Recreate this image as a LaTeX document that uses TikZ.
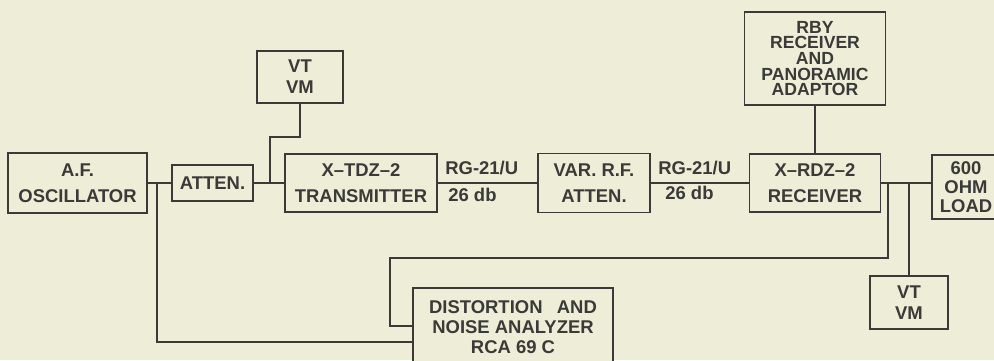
\documentclass[tikz,border=0pt]{standalone}
\usepackage{fontspec}
\setmainfont{Liberation Sans}
\usetikzlibrary{positioning}

\definecolor{paper}{HTML}{EEEDD7}
\definecolor{ink}{HTML}{3A3A38}

\begin{document}
\begin{tikzpicture}[
    x=0.02cm, y=-0.02cm,
    font=\bfseries\fontsize{10.5}{14.7}\selectfont,
    blk/.style={rectangle, draw=ink, fill=paper, line width=1.1pt, text=ink, align=center, inner sep=0pt},
    wire/.style={draw=ink, line width=1.1pt},
    cable/.style={text=ink, inner sep=0pt, anchor=west},
]

\fill[paper] (0,0) rectangle (994,360);
\useasboundingbox (0,0) rectangle (994,360);

% main chain
\node[blk, minimum width=2.78cm, minimum height=1.2cm] (osc) at (77.5,183) {A.F.\\OSCILLATOR};
\node[blk, minimum width=1.62cm, minimum height=0.72cm] (atten) at (212.5,183) {ATTEN.};
\node[blk, minimum width=3.04cm, minimum height=1.16cm] (tx) at (361,183) {X--TDZ--2\\TRANSMITTER};
\node[blk, minimum width=2.24cm, minimum height=1.18cm] (varatt) at (594,183) {VAR. R.F.\\ATTEN.};
\node[blk, minimum width=2.62cm, minimum height=1.16cm] (rx) at (815,183) {X--RDZ--2\\RECEIVER};
\node[blk, minimum width=1.36cm, minimum height=1.28cm, font=\bfseries\fontsize{10.5}{10.8}\selectfont] (load) at (966,187) {600\\OHM\\LOAD};

% side instruments
\node[blk, minimum width=1.72cm, minimum height=1.04cm, font=\bfseries\fontsize{10.5}{12}\selectfont] (vtvm1) at (300,77) {VT\\VM};
\node[blk, minimum width=2.82cm, minimum height=1.86cm, font=\bfseries\fontsize{10}{8.9}\selectfont] (rby) at (815,58.5) {RBY\\RECEIVER\\AND\\PANORAMIC\\ADAPTOR};
\node[blk, minimum width=1.56cm, minimum height=1.06cm, font=\bfseries\fontsize{10.5}{12}\selectfont] (vtvm2) at (909,302.5) {VT\\VM};
\node[blk, minimum width=4.0cm, inner ysep=0.26cm, anchor=north, font=\bfseries\fontsize{10.5}{11.3}\selectfont] (dist) at (513,287) {DISTORTION\hspace{0.5em} AND\\NOISE ANALYZER\\RCA 69 C};

% cable labels
\node[cable] (rg1) at (445,168) {RG-21/U};
\node[cable] (db1) at (448,195) {26 db};
\node[cable] (rg2) at (658,168) {RG-21/U};
\node[cable] (db2) at (665,193) {26 db};

\coordinate (j1) at (157,183);
\coordinate (j2) at (270,183);
\coordinate (j3) at (888,183);
\coordinate (j4) at (909,183);
\coordinate (bend) at (390,258);
\coordinate (in1) at (413,326);
\coordinate (in2) at (413,342);

\draw[wire] (osc) -- (atten);
\draw[wire] (atten) -- (tx);
\draw[wire] (tx) -- (varatt);
\draw[wire] (varatt) -- (rx);
\draw[wire] (rx) -- (rx -| load.west);
\draw[wire] (rby) -- (rx);

\draw[wire] (j2) -- ++(0,-46) -| (vtvm1.south);
\draw[wire] (j4) -- (vtvm2.north);
\draw[wire] (j1) |- (in2);
\draw[wire] (j3) |- (bend) |- (in1);

\end{tikzpicture}
\end{document}
